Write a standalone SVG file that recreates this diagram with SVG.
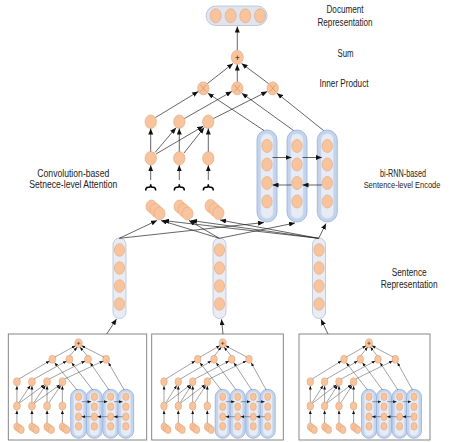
<svg xmlns="http://www.w3.org/2000/svg" xmlns:xlink="http://www.w3.org/1999/xlink" width="452" height="442" viewBox="0 0 452 442">
<style>
.n{fill:#f8c49e;stroke:#e3a577;stroke-width:0.6}
.co{fill:#c3d4ec;stroke:#94b0dc;stroke-width:0.8}
.ci{fill:#e6ebf5;stroke:#cbd7ea;stroke-width:0.5}
.sp{fill:#e9ecf4;stroke:#aeb7cc;stroke-width:0.7}
.a{stroke:#222;stroke-width:0.7;fill:none;marker-end:url(#ah)}
.m{stroke:#333;stroke-width:0.45;fill:none;marker-end:url(#ahs)}
.x{stroke:#c98655;stroke-width:0.6}
.br{stroke:#000;stroke-width:1.5;fill:none}
.box{fill:#fff;stroke:#7a7a7a;stroke-width:0.9}
.t{font-family:"Liberation Sans",Arial,sans-serif;font-size:10px;fill:#222;text-anchor:middle}
</style>
<defs>
<marker id="ah" markerUnits="userSpaceOnUse" markerWidth="7" markerHeight="5" refX="6" refY="2.5" orient="auto"><path d="M0,0 L6,2.5 L0,5 z" fill="#111"/></marker>
<marker id="ahs" markerUnits="userSpaceOnUse" markerWidth="4" markerHeight="3" refX="3.5" refY="1.5" orient="auto"><path d="M0,0 L3.5,1.5 L0,3 z" fill="#111"/></marker>
<g id="mini">
 <ellipse class="n" cx="71" cy="9.3" rx="3.5" ry="4.5"/>
 <path d="M69.3,9.3 h3.4 M71,7.6 v3.4" stroke="#222" stroke-width="0.5"/>
 <ellipse class="n" cx="46" cy="25.3" rx="3.3" ry="4"/>
 <ellipse class="n" cx="62.3" cy="25.3" rx="3.3" ry="4"/>
 <ellipse class="n" cx="80" cy="25.3" rx="3.3" ry="4"/>
 <ellipse class="n" cx="97.3" cy="25.3" rx="3.3" ry="4"/>
 <ellipse class="n" cx="12.3" cy="47.7" rx="3.3" ry="4"/>
 <ellipse class="n" cx="26.6" cy="47.7" rx="3.3" ry="4"/>
 <ellipse class="n" cx="41" cy="47.7" rx="3.3" ry="4"/>
 <ellipse class="n" cx="55.6" cy="47.7" rx="3.3" ry="4"/>
 <ellipse class="n" cx="12.3" cy="72" rx="3.3" ry="4"/>
 <ellipse class="n" cx="26.6" cy="72" rx="3.3" ry="4"/>
 <ellipse class="n" cx="41" cy="72" rx="3.3" ry="4"/>
 <ellipse class="n" cx="55.6" cy="72" rx="3.3" ry="4"/>
 <g>
  <ellipse class="n" cx="12.3" cy="92.8" rx="3" ry="3.8"/><ellipse class="n" cx="14.3" cy="94.3" rx="3" ry="3.8"/><ellipse class="n" cx="16.3" cy="95.8" rx="3" ry="3.8"/>
  <ellipse class="n" cx="26.6" cy="92.8" rx="3" ry="3.8"/><ellipse class="n" cx="28.6" cy="94.3" rx="3" ry="3.8"/><ellipse class="n" cx="30.6" cy="95.8" rx="3" ry="3.8"/>
  <ellipse class="n" cx="41" cy="92.8" rx="3" ry="3.8"/><ellipse class="n" cx="43" cy="94.3" rx="3" ry="3.8"/><ellipse class="n" cx="45" cy="95.8" rx="3" ry="3.8"/>
  <ellipse class="n" cx="55.6" cy="92.8" rx="3" ry="3.8"/><ellipse class="n" cx="57.6" cy="94.3" rx="3" ry="3.8"/><ellipse class="n" cx="59.6" cy="95.8" rx="3" ry="3.8"/>
 </g>
 <g id="mcol">
  <rect class="co" x="63.5" y="55.3" width="15" height="49" rx="7.5"/>
  <rect class="ci" x="66.2" y="57.5" width="9.6" height="44.6" rx="4.8"/>
  <ellipse class="n" cx="71" cy="62.7" rx="3" ry="3.8"/>
  <ellipse class="n" cx="71" cy="72.7" rx="3" ry="3.8"/>
  <ellipse class="n" cx="71" cy="82.7" rx="3" ry="3.8"/>
  <ellipse class="n" cx="71" cy="92.3" rx="3" ry="3.8"/>
 </g>
 <use xlink:href="#mcol" x="15"/>
 <use xlink:href="#mcol" x="30.6"/>
 <use xlink:href="#mcol" x="45"/>
 <g>
  <line class="m" x1="48.5" y1="23" x2="68" y2="11.8"/>
  <line class="m" x1="63" y1="21.5" x2="69.5" y2="13.2"/>
  <line class="m" x1="79" y1="21.5" x2="72.5" y2="13.2"/>
  <line class="m" x1="95" y1="23" x2="74" y2="11.8"/>
  <line class="m" x1="14.5" y1="44.8" x2="43.3" y2="27"/>
  <line class="m" x1="29" y1="44.8" x2="59.5" y2="27"/>
  <line class="m" x1="43.5" y1="44.8" x2="77.2" y2="27"/>
  <line class="m" x1="58" y1="44.8" x2="94.5" y2="27"/>
  <line class="m" x1="69.5" y1="56" x2="48.3" y2="28.8"/>
  <line class="m" x1="84.5" y1="56" x2="64.5" y2="28.8"/>
  <line class="m" x1="100" y1="56" x2="82.2" y2="28.8"/>
  <line class="m" x1="114.5" y1="56" x2="99.5" y2="28.8"/>
  <line class="m" x1="12.3" y1="68" x2="12.3" y2="52"/>
  <line class="m" x1="26.6" y1="68" x2="26.6" y2="52"/>
  <line class="m" x1="41" y1="68" x2="41" y2="52"/>
  <line class="m" x1="55.6" y1="68" x2="55.6" y2="52"/>
  <line class="m" x1="14.3" y1="68.5" x2="25" y2="51.6"/>
  <line class="m" x1="14.8" y1="69" x2="38.6" y2="50.8"/>
  <line class="m" x1="28.6" y1="68.5" x2="39.4" y2="51.6"/>
  <line class="m" x1="29.1" y1="69" x2="53.2" y2="50.8"/>
  <line class="m" x1="43" y1="68.5" x2="54" y2="51.6"/>
  <line class="m" x1="12.3" y1="89" x2="12.3" y2="76.5"/>
  <line class="m" x1="26.6" y1="89" x2="26.6" y2="76.5"/>
  <line class="m" x1="41" y1="89" x2="41" y2="76.5"/>
  <line class="m" x1="55.6" y1="89" x2="55.6" y2="76.5"/>
  <line class="m" x1="74" y1="67.7" x2="83" y2="67.7"/>
  <line class="m" x1="89" y1="67.7" x2="98.6" y2="67.7"/>
  <line class="m" x1="104.6" y1="67.7" x2="113" y2="67.7"/>
  <line class="m" x1="83" y1="82.7" x2="74" y2="82.7"/>
  <line class="m" x1="98.6" y1="82.7" x2="89" y2="82.7"/>
  <line class="m" x1="113" y1="82.7" x2="104.6" y2="82.7"/>
 </g>
</g>
</defs>
<rect width="452" height="442" fill="#fff"/>

<g id="doc-representation">
 <rect class="sp" x="206" y="6" width="61" height="19.5" rx="9.75" style="fill:#dfe4ef"/>
 <ellipse class="n" cx="215.7" cy="15.8" rx="5.5" ry="7"/>
 <ellipse class="n" cx="230.7" cy="15.8" rx="5.5" ry="7"/>
 <ellipse class="n" cx="245.3" cy="15.8" rx="5.5" ry="7"/>
 <ellipse class="n" cx="260" cy="15.8" rx="5.5" ry="7"/>
</g>
<g id="sum">
 <ellipse class="n" cx="237.3" cy="57.3" rx="6" ry="7"/>
 <text x="237.3" y="60.6" font-family="Liberation Sans, sans-serif" font-size="9" text-anchor="middle" fill="#222">+</text>
</g>
<g id="inner-product">
 <ellipse class="n" cx="203.3" cy="88.3" rx="5.7" ry="6.5"/>
 <path class="x" d="M200.3,84.8 L206.3,91.8 M206.3,84.8 L200.3,91.8"/>
 <ellipse class="n" cx="237.3" cy="88.3" rx="5.7" ry="6.5"/>
 <path class="x" d="M234.3,84.8 L240.3,91.8 M240.3,84.8 L234.3,91.8"/>
 <ellipse class="n" cx="272.7" cy="88.3" rx="5.7" ry="6.5"/>
 <path class="x" d="M269.7,84.8 L275.7,91.8 M275.7,84.8 L269.7,91.8"/>
</g>
<g id="attention">
 <ellipse class="n" cx="150.7" cy="121.7" rx="5.7" ry="6.7"/>
 <ellipse class="n" cx="179.3" cy="121.7" rx="5.7" ry="6.7"/>
 <ellipse class="n" cx="208.3" cy="121.7" rx="5.7" ry="6.7"/>
 <ellipse class="n" cx="150.7" cy="158.3" rx="5.7" ry="6.7"/>
 <ellipse class="n" cx="179.3" cy="158.3" rx="5.7" ry="6.7"/>
 <ellipse class="n" cx="208.3" cy="158.3" rx="5.7" ry="6.7"/>
 <path class="br" d="M145.7,190.5 Q145.7,187.3 148.2,187.3 L149.2,187.3 Q150.7,187.3 150.7,184.3 Q150.7,187.3 152.2,187.3 L153.2,187.3 Q155.7,187.3 155.7,190.5"/>
 <path class="br" d="M174.3,190.5 Q174.3,187.3 176.8,187.3 L177.8,187.3 Q179.3,187.3 179.3,184.3 Q179.3,187.3 180.8,187.3 L181.8,187.3 Q184.3,187.3 184.3,190.5"/>
 <path class="br" d="M203.3,190.5 Q203.3,187.3 205.8,187.3 L206.8,187.3 Q208.3,187.3 208.3,184.3 Q208.3,187.3 209.8,187.3 L210.8,187.3 Q213.3,187.3 213.3,190.5"/>
 <ellipse class="n" cx="151.5" cy="206.5" rx="5.5" ry="6.5"/>
 <ellipse class="n" cx="155.5" cy="210" rx="5.5" ry="6.5"/>
 <ellipse class="n" cx="159.5" cy="213.5" rx="5.5" ry="6.5"/>
 <ellipse class="n" cx="179.5" cy="206.5" rx="5.5" ry="6.5"/>
 <ellipse class="n" cx="183.5" cy="210" rx="5.5" ry="6.5"/>
 <ellipse class="n" cx="187.5" cy="213.5" rx="5.5" ry="6.5"/>
 <ellipse class="n" cx="210.5" cy="206" rx="5.5" ry="6.5"/>
 <ellipse class="n" cx="214.5" cy="209.5" rx="5.5" ry="6.5"/>
 <ellipse class="n" cx="218.5" cy="213" rx="5.5" ry="6.5"/>
</g>
<g id="birnn">
 <g id="col1">
  <rect class="co" x="257" y="130" width="20" height="92" rx="10"/>
  <rect class="ci" x="260.7" y="133.5" width="12.6" height="85" rx="6.3"/>
  <ellipse class="n" cx="267" cy="146" rx="5.2" ry="6.5"/>
  <ellipse class="n" cx="267" cy="164.5" rx="5.2" ry="6.5"/>
  <ellipse class="n" cx="267" cy="183" rx="5.2" ry="6.5"/>
  <ellipse class="n" cx="267" cy="201.5" rx="5.2" ry="6.5"/>
 </g>
 <use xlink:href="#col1" x="30"/>
 <use xlink:href="#col1" x="60.3"/>
</g>
<g id="sentences">
 <g id="sent1">
  <rect class="sp" x="113" y="238" width="13" height="80.5" rx="6.5"/>
  <ellipse class="n" cx="119.5" cy="250" rx="5.1" ry="6.3"/>
  <ellipse class="n" cx="119.5" cy="268" rx="5.1" ry="6.3"/>
  <ellipse class="n" cx="119.5" cy="286" rx="5.1" ry="6.3"/>
  <ellipse class="n" cx="119.5" cy="304" rx="5.1" ry="6.3"/>
 </g>
 <use xlink:href="#sent1" x="100"/>
 <use xlink:href="#sent1" x="199.5"/>
</g>
<g id="box1">
 <rect class="box" x="8.3" y="334" width="138.4" height="106"/>
 <use xlink:href="#mini" transform="translate(4,334) scale(1.05,1)"/>
</g>
<g id="box2">
 <rect class="box" x="151.7" y="334" width="131.6" height="106"/>
 <use xlink:href="#mini" transform="translate(151.7,334)"/>
</g>
<g id="box3">
 <rect class="box" x="299" y="334" width="131" height="106"/>
 <use xlink:href="#mini" transform="translate(298,334)"/>
</g>

<g id="connectors">
 <line class="a" x1="237.3" y1="50" x2="237.3" y2="26.5"/>
 <line class="a" x1="207.5" y1="83.5" x2="233" y2="63.5"/>
 <line class="a" x1="237.3" y1="81.5" x2="237.3" y2="64.6"/>
 <line class="a" x1="268.5" y1="83.5" x2="241.6" y2="63.5"/>
 <line class="a" x1="155.5" y1="117.5" x2="198.3" y2="91.5"/>
 <line class="a" x1="184.5" y1="118.5" x2="231.8" y2="91.5"/>
 <line class="a" x1="213.5" y1="118.5" x2="267.2" y2="91.5"/>
 <line class="a" x1="264" y1="130.5" x2="207.8" y2="93.2"/>
 <line class="a" x1="293.5" y1="130.5" x2="241.8" y2="93.2"/>
 <line class="a" x1="323.5" y1="130.5" x2="277" y2="93.2"/>
 <line class="a" x1="150.7" y1="151.5" x2="150.7" y2="128.6"/>
 <line class="a" x1="179.3" y1="151.5" x2="179.3" y2="128.6"/>
 <line class="a" x1="208.3" y1="151.5" x2="208.3" y2="128.6"/>
 <line class="a" x1="155" y1="152.5" x2="176" y2="127.8"/>
 <line class="a" x1="156" y1="154" x2="203.3" y2="126.2"/>
 <line class="a" x1="184" y1="153" x2="204.2" y2="127.5"/>
 <line class="a" x1="150.7" y1="180" x2="150.7" y2="165.3"/>
 <line class="a" x1="179.3" y1="180" x2="179.3" y2="165.3"/>
 <line class="a" x1="208.3" y1="180" x2="208.3" y2="165.3"/>
 <line class="a" x1="272.5" y1="157.5" x2="291.5" y2="157.5"/>
 <line class="a" x1="302.5" y1="157.5" x2="321.8" y2="157.5"/>
 <line class="a" x1="291.5" y1="185" x2="272.5" y2="185"/>
 <line class="a" x1="321.8" y1="185" x2="302.5" y2="185"/>
 <line class="a" x1="119.3" y1="238.3" x2="157" y2="220.5"/>
 <line class="a" x1="119.3" y1="238.3" x2="264" y2="222.5"/>
 <line class="a" x1="219.3" y1="238.3" x2="161" y2="220.5"/>
 <line class="a" x1="219.3" y1="238.3" x2="189" y2="220.5"/>
 <line class="a" x1="219.3" y1="238.3" x2="295" y2="223"/>
 <line class="a" x1="318.7" y1="238.3" x2="163" y2="220.5"/>
 <line class="a" x1="318.7" y1="238.3" x2="191" y2="220.5"/>
 <line class="a" x1="318.7" y1="238.3" x2="220" y2="220"/>
 <line class="a" x1="318.7" y1="238.3" x2="326" y2="223.5"/>
 <line class="a" x1="106.7" y1="334" x2="116.5" y2="319"/>
 <line class="a" x1="223" y1="334" x2="221.5" y2="319.3"/>
 <line class="a" x1="328" y1="334" x2="321" y2="319.3"/>
</g>

<g id="labels">
 <text class="t" x="345" y="13.4" textLength="37" lengthAdjust="spacingAndGlyphs">Document</text>
 <text class="t" x="345" y="26" textLength="55" lengthAdjust="spacingAndGlyphs">Representation</text>
 <text class="t" x="345.5" y="57.4" textLength="16" lengthAdjust="spacingAndGlyphs">Sum</text>
 <text class="t" x="344" y="86.6" textLength="49" lengthAdjust="spacingAndGlyphs">Inner Product</text>
 <text class="t" x="73.3" y="176.6" textLength="72" lengthAdjust="spacingAndGlyphs">Convolution-based</text>
 <text class="t" x="73.3" y="187.7" textLength="88" lengthAdjust="spacingAndGlyphs">Setnece-level Attention</text>
 <text class="t" x="403" y="176.6" textLength="46" lengthAdjust="spacingAndGlyphs">bi-RNN-based</text>
 <text class="t" x="402" y="188.3" textLength="76.7" lengthAdjust="spacingAndGlyphs" style="font-size:8.6px">Sentence-level Encode</text>
 <text class="t" x="409.2" y="276" textLength="35" lengthAdjust="spacingAndGlyphs">Sentence</text>
 <text class="t" x="409.2" y="287.6" textLength="57" lengthAdjust="spacingAndGlyphs">Representation</text>
</g>
</svg>
